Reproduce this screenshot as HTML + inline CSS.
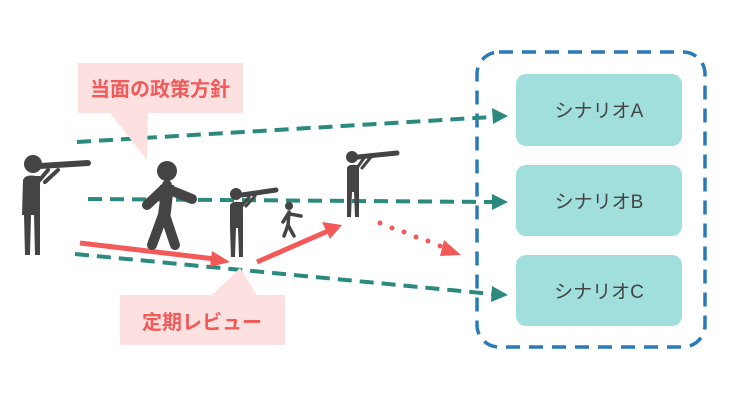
<!DOCTYPE html>
<html><head><meta charset="utf-8"><style>
body{margin:0;background:#fff;width:730px;height:411px;overflow:hidden;font-family:"Liberation Sans","Noto Sans CJK JP",sans-serif}
</style></head><body>
<svg width="730" height="411" viewBox="0 0 730 411" xmlns="http://www.w3.org/2000/svg">
<rect x="477" y="52" width="228" height="295" rx="22" fill="none" stroke="#2a7ab8" stroke-width="3.5" stroke-dasharray="14 9"/>
<rect x="516" y="74" width="166" height="72" rx="10" fill="#a1dfdc"/>
<rect x="516" y="165" width="166" height="71" rx="10" fill="#a1dfdc"/>
<rect x="516" y="255" width="166" height="71" rx="10" fill="#a1dfdc"/>
<g font-size="19" fill="#444" text-anchor="middle">
<text x="599" y="117">シナリオA</text>
<text x="599" y="208">シナリオB</text>
<text x="599" y="298">シナリオC</text>
</g>
<g stroke="#2a8a7e" stroke-width="4" stroke-dasharray="14 8" fill="none">
<line x1="77" y1="142" x2="492" y2="117"/>
<line x1="88" y1="199" x2="492" y2="202"/>
<line x1="75" y1="254" x2="492" y2="294"/>
</g>
<g fill="#2a8a7e">
<path d="M492,108 L508,116 L493,124z"/>
<path d="M492,194 L508,202 L492,210z"/>
<path d="M492,286 L508,295 L491,302z"/>
</g>
<g stroke="#f25a5a" stroke-width="5" fill="none">
<line x1="80" y1="243" x2="215" y2="259"/>
<line x1="257" y1="262" x2="328" y2="231"/>
</g>
<g fill="#f25a5a">
<path d="M212,251 L230,262 L210,267z"/>
<path d="M322,222 L342,225 L330,239z"/>
</g>
<g fill="#f25a5a">
<circle cx="380" cy="223" r="2.5"/><circle cx="392" cy="228" r="2.5"/><circle cx="404" cy="232" r="2.5"/><circle cx="416" cy="237" r="2.5"/><circle cx="428" cy="241" r="2.5"/><circle cx="440" cy="246" r="2.5"/>
<path d="M444,240 L461,255 L440,256z"/>
</g>
<path d="M78,63 H243 V113 H148 L147,160 L110,113 H78z" fill="#fde0e0"/>
<path d="M120,295 H212 L240,268 L257,295 H285 V345 H120z" fill="#fde0e0"/>
<g font-size="20" font-weight="bold" fill="#f25a5a" text-anchor="middle">
<text x="160" y="96">当面の政策方針</text>
<text x="202" y="329">定期レビュー</text>
</g>
<g fill="#444" stroke="#444" stroke-linecap="round">
<circle cx="33" cy="164" r="9" stroke="none"/>
<path d="M23,180 Q25,174 36,176 L40,176 L40,255 L35,255 L34,215 L31,215 L30,255 L25,255 L24,215 L22,215z" stroke="none"/>
<line x1="40" y1="166" x2="88" y2="163" stroke-width="6"/>
<path d="M38,182 L48,170 M45,182 L58,170" stroke-width="4" fill="none"/>
<circle cx="167" cy="171" r="10" stroke="none"/>
<path d="M167,185 L163,215 L152,245 M165,215 L175,245 M165,188 L147,205 M170,190 L192,199" stroke-width="10" fill="none"/>
<path d="M160,185 L174,185 L170,220 L160,220z" stroke="none"/>
<circle cx="236" cy="194" r="6" stroke="none"/>
<path d="M230,205 Q232,201 240,202 L243,202 L243,257 L239,257 L238,228 L236,228 L235,257 L231,257 L230,228z" stroke="none"/>
<line x1="242" y1="195" x2="276" y2="190" stroke-width="5"/>
<path d="M242,206 L249,197 M246,206 L255,196" stroke-width="3" fill="none"/>
<circle cx="289" cy="206" r="4" stroke="none"/>
<path d="M289,212 L288,225 L284,236 M288,225 L294,236 M288,214 L283,222 M290,214 L301,216" stroke-width="3.5" fill="none"/>
<circle cx="352" cy="157" r="6" stroke="none"/>
<path d="M347,168 Q348,164 356,165 L359,165 L359,217 L355,217 L354,192 L352,192 L351,217 L347,217z" stroke="none"/>
<line x1="358" y1="157" x2="397" y2="153" stroke-width="5"/>
<path d="M357,168 L364,158 M362,168 L371,157" stroke-width="3" fill="none"/>
</g>
</svg>
</body></html>
